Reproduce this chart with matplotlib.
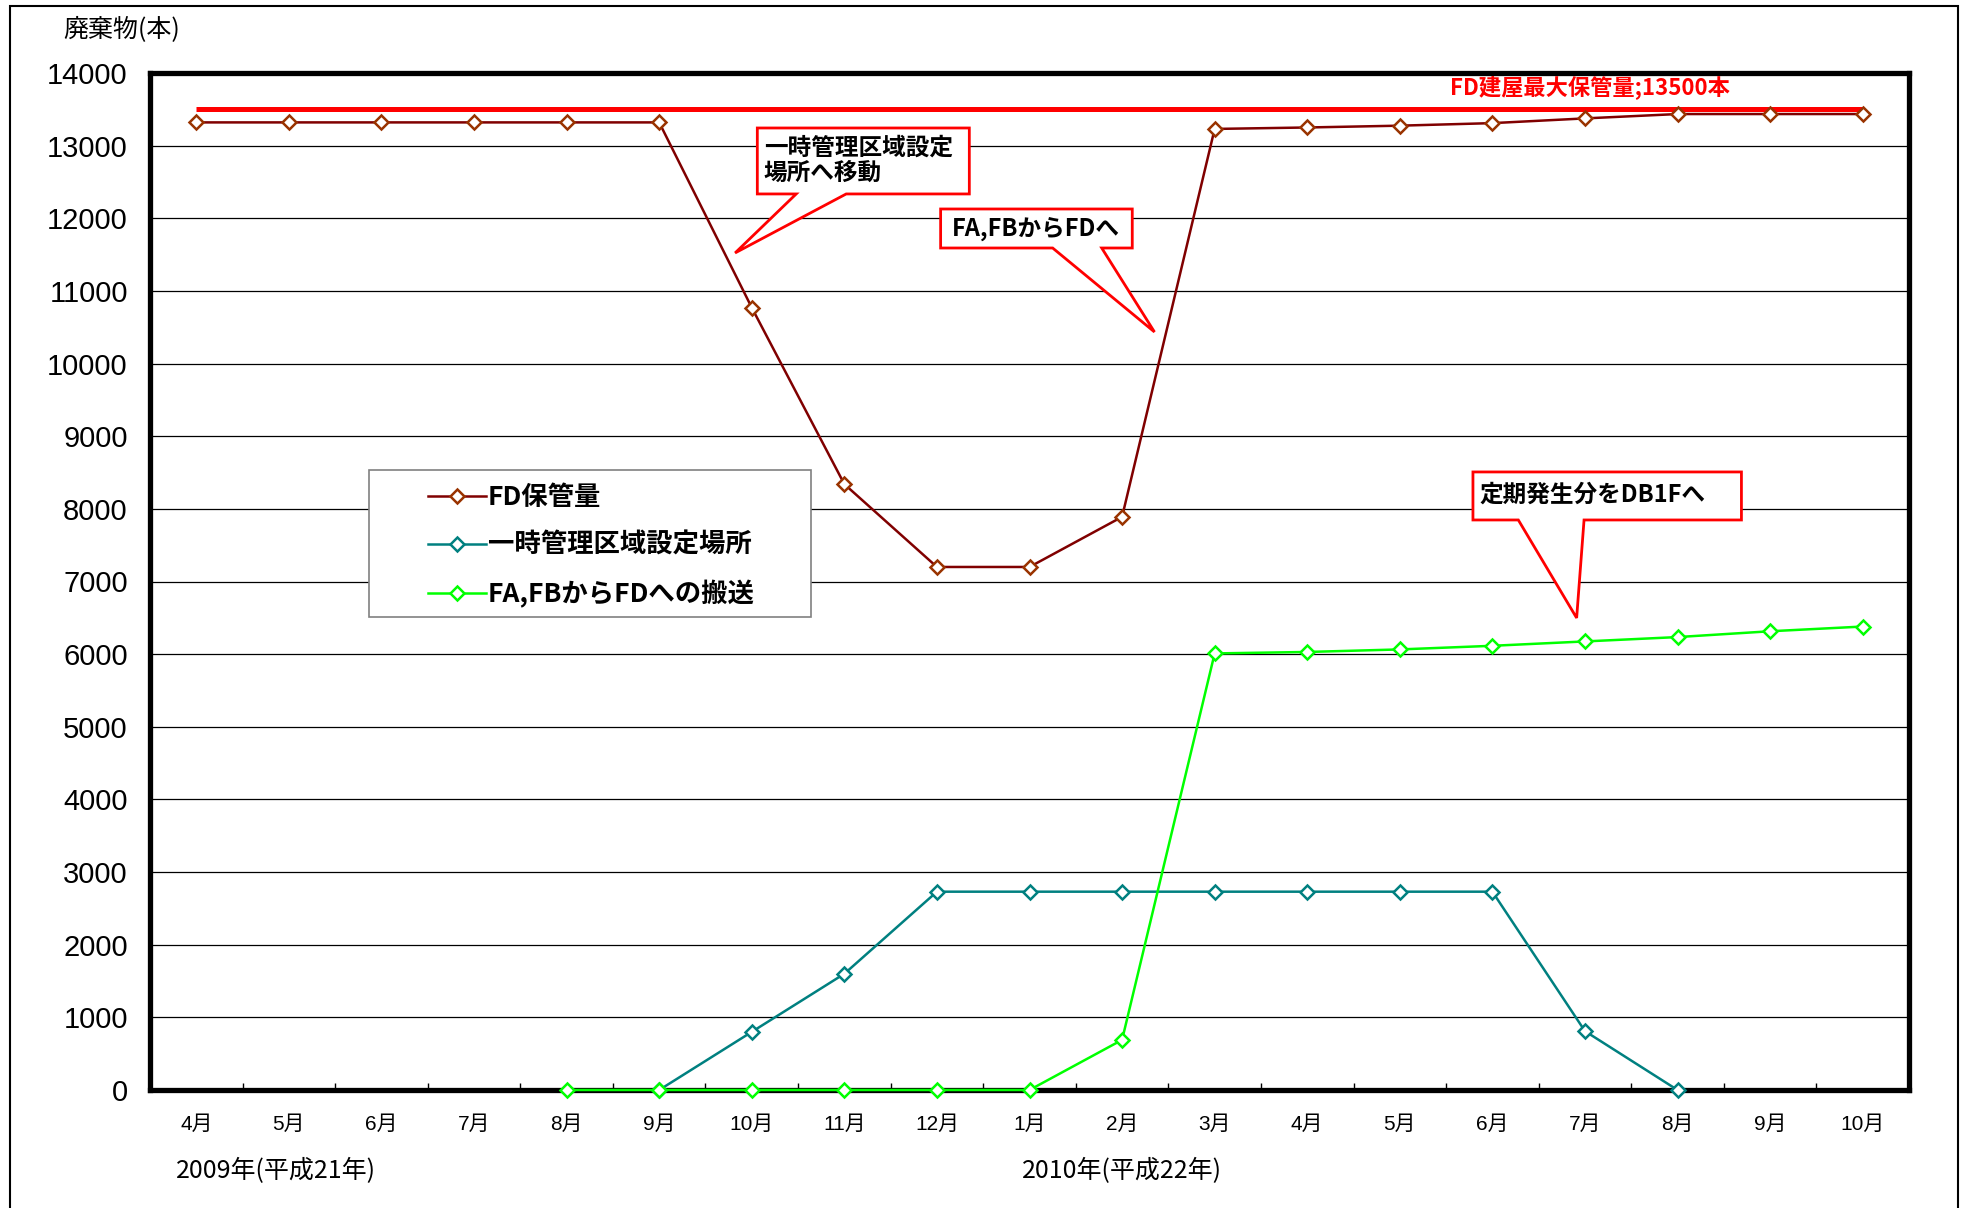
import matplotlib
matplotlib.use("Agg")
import matplotlib.pyplot as plt
from matplotlib import font_manager
from matplotlib.patches import Polygon, Rectangle
from matplotlib.lines import Line2D
from matplotlib.ticker import FixedLocator

# --- Fonts ---
jp = "Noto Sans CJK JP"
names = {f.name for f in font_manager.fontManager.ttflist}
num = "Liberation Sans Narrow" if "Liberation Sans Narrow" in names else "Liberation Sans"
plt.rcParams["font.family"] = [jp, "DejaVu Sans"]

# --- Data ---
months = ["4月", "5月", "6月", "7月", "8月", "9月", "10月", "11月", "12月", "1月",
          "2月", "3月", "4月", "5月", "6月", "7月", "8月", "9月", "10月"]
fd_storage = [13320, 13320, 13320, 13320, 13320, 13320, 10770, 8340, 7200, 7200,
              7890, 13230, 13250, 13275, 13310, 13375, 13435, 13435, 13435]
temp_start = 5          # 9月 2009
temp_area = [0, 800, 1600, 2730, 2730, 2730, 2730, 2730, 2730, 2730, 810, 0]
move_start = 4          # 8月 2009
fafb_move = [0, 0, 0, 0, 0, 0, 690, 6010, 6030, 6065, 6115, 6175, 6235, 6315, 6380]
fd_max = 13500
fd_max_label = "FD建屋最大保管量;13500本"
series_names = ["FD保管量", "一時管理区域設定場所", "FA,FBからFDへの搬送"]
year_labels = ["2009年(平成21年)", "2010年(平成22年)"]

x_all = list(range(len(months)))
x_temp = list(range(temp_start, temp_start + len(temp_area)))
x_move = list(range(move_start, move_start + len(fafb_move)))

# --- Figure ---
fig = plt.figure(figsize=(19.66, 12.08), dpi=100)
ax = fig.add_axes([150 / 1966, 1 - 1090 / 1208, 1759 / 1966, 1017 / 1208])

c_fd, c_fd_m = "#800000", "#993300"
c_tmp = "#008080"
c_mv = "#00ff00"
mk = dict(marker="D", markersize=7, markeredgewidth=1.8, markerfacecolor="white")

ax.plot([0, len(months) - 1], [fd_max, fd_max], color="#ff0000", lw=3.6, zorder=2,
        solid_capstyle="butt")
ax.plot(x_all, fd_storage, color=c_fd, lw=1.8, markeredgecolor=c_fd_m, zorder=4,
        clip_on=False, **mk)
ax.plot(x_temp, temp_area, color=c_tmp, lw=1.8, markeredgecolor=c_tmp, zorder=4,
        clip_on=False, **mk)
ax.plot(x_move, fafb_move, color=c_mv, lw=1.8, markeredgecolor=c_mv, zorder=5,
        clip_on=False, **mk)

ax.set_xlim(-0.5, len(months) - 0.5)
ax.set_ylim(0, 14000)
ax.set_yticks(range(0, 14001, 1000))
ax.set_yticklabels([str(v) for v in range(0, 14001, 1000)], fontfamily=num, fontsize=21)
ax.set_xticks(x_all)
ax.set_xticklabels(months, fontsize=15, fontfamily=[num, jp])
ax.xaxis.set_minor_locator(FixedLocator([i + 0.5 for i in x_all[:-1]]))
ax.tick_params(axis="x", which="major", length=0, pad=18)
ax.tick_params(axis="x", which="minor", direction="in", length=5, width=1)
ax.tick_params(axis="y", length=0, pad=16)
ax.grid(axis="y", color="black", lw=0.9)
ax.set_axisbelow(True)
for s in ax.spines.values():
    s.set_linewidth(3.8)
    s.set_zorder(3)

# --- Legend (frame drawn by hand) ---
ax.add_patch(Rectangle((0.1245, 0.465), 0.2513, 0.1446, transform=ax.transAxes,
                       facecolor="white", edgecolor="#808080", lw=1.2, zorder=1.5))
handles = [Line2D([], [], color=c_fd, lw=1.8, markeredgecolor=c_fd_m, **mk),
           Line2D([], [], color=c_tmp, lw=1.8, markeredgecolor=c_tmp, **mk),
           Line2D([], [], color=c_mv, lw=1.8, markeredgecolor=c_mv, **mk)]
leg = ax.legend(handles, series_names, loc="upper left", bbox_to_anchor=(0.158, 0.596),
                frameon=False, borderpad=0, borderaxespad=0, handlelength=2.2,
                handletextpad=0.08, labelspacing=0.8,
                prop=dict(family=jp, size=19, weight="bold"))


# --- Callouts ---
def callout(x0, x1, ytop, ybot, b1, b2, tip):
    pts = [(x0, ytop), (x1, ytop), (x1, ybot), (b2, ybot), tip, (b1, ybot), (x0, ybot)]
    ax.add_patch(Polygon(pts, closed=True, facecolor="white", edgecolor="#ff0000",
                         lw=2, zorder=6, joinstyle="miter"))


callout(6.06, 8.35, 13243, 12335, 6.48, 7.02, (5.82, 11523))
ax.text(6.13, 12800, "一時管理区域設定\n場所へ移動", fontsize=17, weight="bold",
        va="center", ha="left", linespacing=1.05, zorder=7)
callout(8.04, 10.11, 12128, 11591, 9.25, 9.78, (10.35, 10435))
ax.text(8.16, 11860, "FA,FBからFDへ", fontsize=17, weight="bold",
        va="center", ha="left", zorder=7)
callout(13.79, 16.69, 8508, 7847, 14.28, 14.99, (14.91, 6498))
ax.text(13.86, 8195, "定期発生分をDB1Fへ", fontsize=17, weight="bold",
        va="center", ha="left", zorder=7)

ax.text(15.05, 13790, fd_max_label, color="#ff0000", fontsize=16, weight="bold",
        ha="center", va="center", zorder=7)

# --- Outer texts ---
fig.text(63 / 1966, 1 - 29 / 1208, "廃棄物(本)", fontsize=18, ha="left", va="center")
fig.text(176 / 1966, 1 - 1171 / 1208, year_labels[0], fontsize=18, ha="left", va="center")
fig.text(1022 / 1966, 1 - 1171 / 1208, year_labels[1], fontsize=18, ha="left", va="center")

fig.patches.append(Rectangle((10 / 1966, -0.02), 1948 / 1966, 1.02 - 6 / 1208,
                             transform=fig.transFigure, fill=False,
                             edgecolor="black", lw=1.5))

fig.savefig("out.png", dpi=100, facecolor="white")
